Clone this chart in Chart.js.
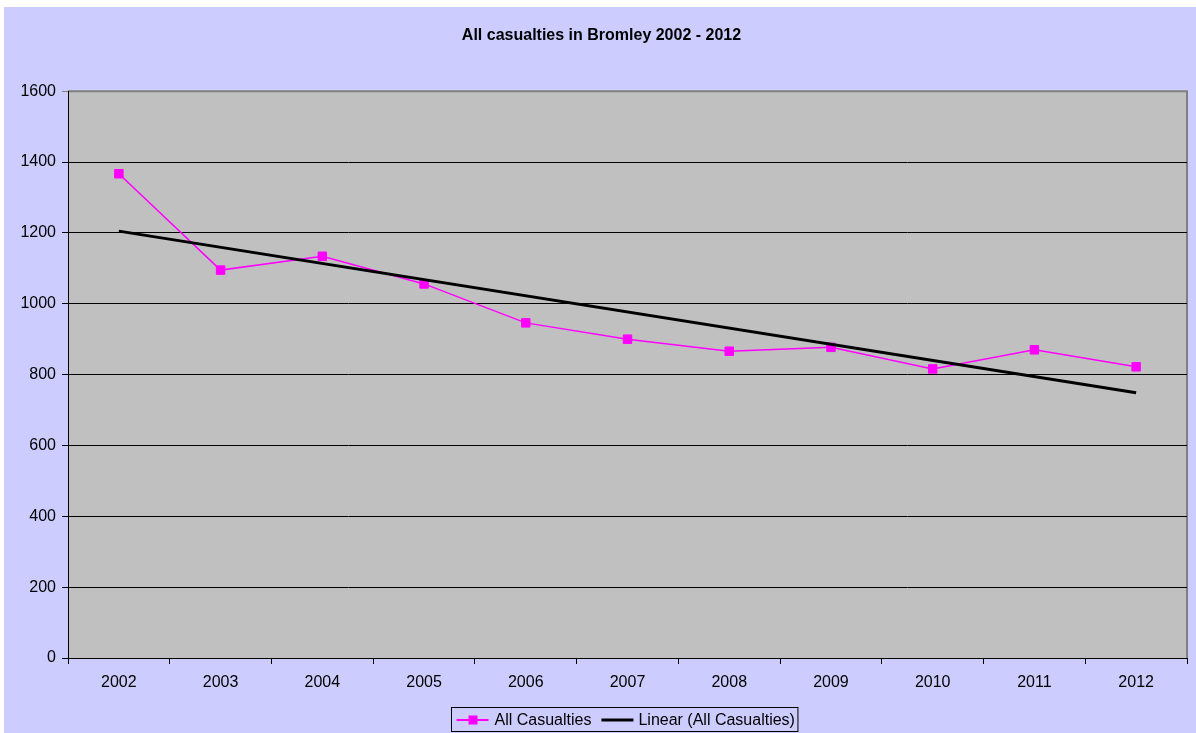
<!DOCTYPE html>
<html>
<head>
<meta charset="utf-8">
<script src="https://cdn.jsdelivr.net/npm/chart.js@4"></script>
<style>
    html, body { margin: 0; padding: 0; background: #ffffff; }
    #wrap { position: absolute; left: 4px; top: 7px; width: 1192px; height: 726px; }
</style>
</head>
<body>
<div id="wrap"><canvas id="chart"></canvas></div>
<script>
// values
const years = ["2002", "2003", "2004", "2005", "2006", "2007", "2008", "2009", "2010", "2011", "2012"];
const casualties = [1367, 1095, 1134, 1056, 946, 900, 866, 877, 816, 870, 822];
const trendLine = [1205, null, null, null, null, null, null, null, null, null, 749];
const yTicks = { min: 0, max: 1600, step: 200 };

const FONT = "'Liberation Sans', Arial, sans-serif";

// lavender page, grey plot area, custom boxed legend
const backdrop =
    {
        id: "backdrop",
        beforeDraw(chart)
        {
            const ctx = chart.ctx;
            const a = chart.chartArea;
            ctx.save();
            ctx.fillStyle = "#CCCCFF";
            ctx.fillRect(0, 0, chart.width, chart.height);
            ctx.fillStyle = "#C0C0C0";
            ctx.fillRect(a.left, a.top, a.right - a.left, a.bottom - a.top);
            ctx.strokeStyle = "#808080";
            ctx.lineWidth = 2;
            ctx.beginPath();
            ctx.moveTo(a.left, a.top);
            ctx.lineTo(a.right, a.top);
            ctx.lineTo(a.right, a.bottom);
            ctx.stroke();
            ctx.restore();
        },
        afterDraw(chart)
        {
            const ctx = chart.ctx;
            const sets = chart.data.datasets;
            ctx.save();
            ctx.font = "16px " + FONT;
            ctx.textBaseline = "middle";
            const w1 = ctx.measureText(sets[0].label).width;
            const w2 = ctx.measureText(sets[1].label).width;
            const total = 5 + 32 + 6 + w1 + 10 + 32 + 5 + w2 + 3;
            const left = Math.round(620 - total / 2) + 0.5;
            const top = 700.5;
            const cy = 713;

            ctx.strokeStyle = "#000000";
            ctx.lineWidth = 1;
            ctx.strokeRect(left, top, total, 24);

            let x = left + 5;
            ctx.strokeStyle = sets[0].borderColor;
            ctx.lineWidth = 2;
            ctx.beginPath();
            ctx.moveTo(x, cy);
            ctx.lineTo(x + 32, cy);
            ctx.stroke();
            ctx.fillStyle = sets[0].borderColor;
            ctx.fillRect(x + 12, cy - 4.5, 9, 9);
            x += 38;
            ctx.fillStyle = "#000000";
            ctx.fillText(sets[0].label, x, cy + 1);
            x += w1 + 10;

            ctx.strokeStyle = sets[1].borderColor;
            ctx.lineWidth = 3;
            ctx.beginPath();
            ctx.moveTo(x, cy);
            ctx.lineTo(x + 32, cy);
            ctx.stroke();
            x += 37;
            ctx.fillText(sets[1].label, x, cy + 1);
            ctx.restore();
        }
    };

const ctx = document.getElementById("chart").getContext("2d");

const chart = new Chart(ctx,
    {
        type: "line",
        data: {
            labels: years,
            datasets: [
                {
                    label: "All Casualties",
                    data: casualties,
                    borderColor: "#FF00FF",
                    backgroundColor: "#FF00FF",
                    borderWidth: 1.5,
                    pointStyle: "rect",
                    pointRadius: 6,
                    pointBorderWidth: 1,
                    pointHoverRadius: 6,
                    tension: 0,
                    fill: false,
                    order: 2
                },
                {
                    label: "Linear (All Casualties)",
                    data: trendLine,
                    borderColor: "#000000",
                    backgroundColor: "#000000",
                    borderWidth: 3,
                    pointRadius: 0,
                    spanGaps: true,
                    fill: false,
                    order: 1
                }
            ]
        },
        options: {
            responsive: true,
            maintainAspectRatio: false,
            animation: false,
            layout: {
                padding: { left: 12, right: 9, top: 0, bottom: 35 }
            },
            plugins: {
                legend: { display: false },
                tooltip: { enabled: false },
                title: {
                    display: true,
                    text: "All casualties in Bromley 2002 - 2012",
                    color: "#000000",
                    font: { family: FONT, size: 16, weight: "bold" },
                    padding: { top: 19, bottom: 46 }
                }
            },
            scales: {
                x: {
                    offset: true,
                    afterFit(scale) { scale.height = 40; },
                    grid: {
                        offset: true,
                        drawOnChartArea: false,
                        drawTicks: true,
                        tickLength: 6,
                        color: "#000000"
                    },
                    border: { display: true, color: "#000000", width: 1 },
                    ticks: {
                        color: "#000000",
                        padding: 9,
                        maxRotation: 0,
                        font: { family: FONT, size: 16 }
                    }
                },
                y: {
                    min: yTicks.min,
                    max: yTicks.max,
                    afterFit(scale) { scale.width = 52; },
                    grid: {
                        drawTicks: true,
                        tickLength: 6,
                        lineWidth: 1,
                        color: (c) => (c.tick && c.tick.value === yTicks.max) ? "#808080" : "#000000"
                    },
                    border: { display: true, color: "#000000", width: 1 },
                    ticks: {
                        stepSize: yTicks.step,
                        color: "#000000",
                        padding: 6,
                        font: { family: FONT, size: 16 },
                        callback: (value) => String(value)
                    }
                }
            }
        },
        plugins: [backdrop]
    });
</script>
</body>
</html>
